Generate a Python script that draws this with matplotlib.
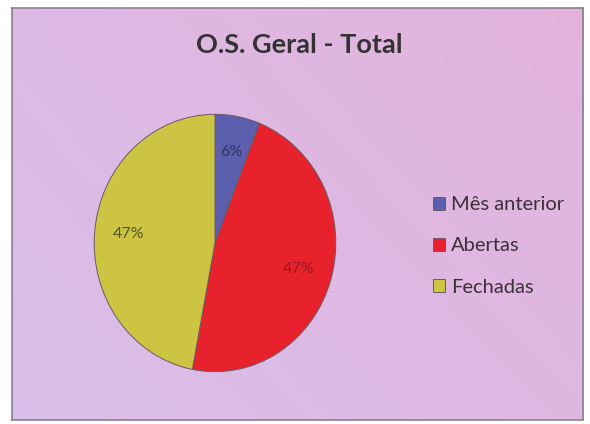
import numpy as np
import matplotlib
matplotlib.use("Agg")
import matplotlib.pyplot as plt

title = "O.S. Geral - Total"
categories = ["Mês anterior", "Abertas", "Fechadas"]
values = [6, 47, 47]
colors = ["#5b5fae", "#e8222c", "#cdc444"]
label_colors = ["#34365e", "#9a1a1e", "#5a5224"]

plt.rcParams['font.family'] = ['Lato', 'DejaVu Sans']

fig = plt.figure(figsize=(5.9, 4.24), dpi=100)
fig.patch.set_facecolor("white")

# background gradient
bg = fig.add_axes([0.02, 0.01, 0.968, 0.97])
bg.set_zorder(0)
yy, xx = np.mgrid[0:1:200j, 0:1:300j]
t = (xx * 0.6 + (1 - yy) * 0.4)
c1 = np.array([0.85, 0.75, 0.92])
c2 = np.array([0.89, 0.70, 0.86])
img = c1[None, None, :] * (1 - t[..., None]) + c2[None, None, :] * t[..., None]
bg.imshow(img, aspect="auto", extent=[0, 1, 0, 1], origin="upper")
bg.set_xticks([]); bg.set_yticks([])
for s in bg.spines.values():
    s.set_edgecolor("#8a8090")
    s.set_linewidth(1.2)

fig.text(0.507, 0.893, title, ha="center", va="center", fontsize=19.5,
         fontweight="bold", color="#333333")

cx, cy = 215 / 590, 1 - 243 / 424
w, h = 244 / 590, 260 / 424
ax = fig.add_axes([cx - w / 2, cy - h / 2, w, h])
ax.set_zorder(1)
wedges, texts, autotexts = ax.pie(values, colors=colors, startangle=90,
                                  counterclock=False, autopct="%1.0f%%",
                                  pctdistance=0.72,
                                  wedgeprops=dict(edgecolor="#6a5a62", linewidth=0.7),
                                  textprops=dict(fontsize=11.5))
for at, lc in zip(autotexts, label_colors):
    at.set_color(lc)
ax.set_xlim(-1.01, 1.01)
ax.set_ylim(-1.01, 1.01)
ax.set_aspect("auto")
ax.axis("off")

leg = fig.legend(wedges, categories, loc="center left",
                 bbox_to_anchor=(0.703, 0.42), frameon=False,
                 fontsize=14.5, handlelength=0.6, handleheight=0.6,
                 handletextpad=0.3, labelspacing=1.2, labelcolor="#3a3038")

fig.savefig("out.png", dpi=100)
